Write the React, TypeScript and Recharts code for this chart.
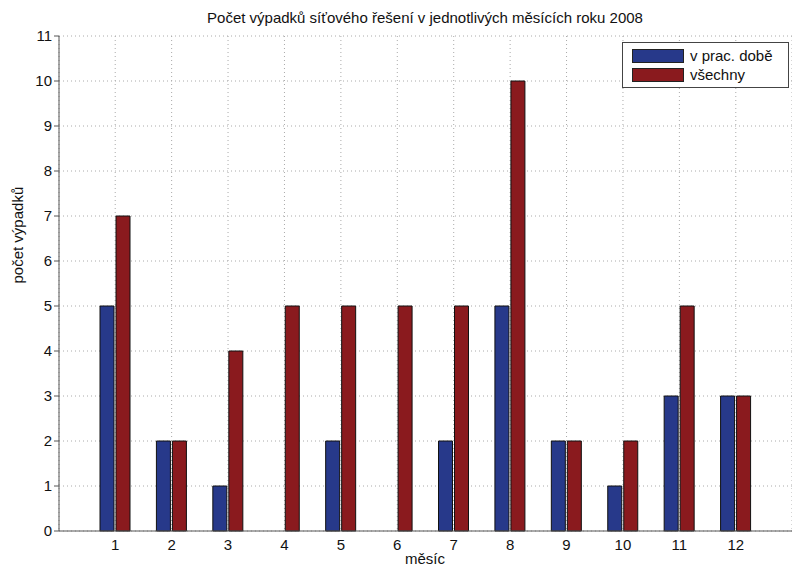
// Sloupcový graf výpadků síťového řešení po měsících (2008).

import { Bar, BarChart, CartesianGrid, XAxis, YAxis } from "recharts";

const months = ["1", "2", "3", "4", "5", "6", "7", "8", "9", "10", "11", "12"];
const workHours = [5, 2, 1, 0, 2, 0, 2, 5, 2, 1, 3, 3];
const allOutages = [7, 2, 4, 5, 5, 5, 5, 10, 2, 2, 5, 3];
const yTicks = [0, 1, 2, 3, 4, 5, 6, 7, 8, 9, 10, 11];

const data = months.map((m, i) => ({ month: m, prac: workHours[i], vse: allOutages[i] }));

const BLUE = "#27398a";
const RED = "#8a1a1e";
const font = "'Liberation Sans', Arial, sans-serif";
const tick = { fill: "#111", fontSize: 15, fontFamily: font };

function LegendBox() {
  const row = (color: string, label: string) => (
    <div style={{ display: "flex", alignItems: "center", height: 19 }}>
      <div style={{ width: 50, height: 12, background: color, border: "1px solid #222", marginRight: 6 }} />
      <span>{label}</span>
    </div>
  );
  return (
    <div
      style={{
        position: "absolute",
        left: 622,
        top: 42,
        border: "1px solid #444",
        background: "#fff",
        padding: "3px 8px 3px 9px",
        fontFamily: font,
        fontSize: 15,
        color: "#111",
        width: 148,
      }}
    >
      {row(BLUE, "v prac. době")}
      {row(RED, "všechny")}
    </div>
  );
}

export default function App() {
  return (
    <div style={{ position: "absolute", left: 0, top: 0, width: 792, height: 567, background: "#fff" }}>
      <BarChart
        width={792}
        height={567}
        data={data}
        margin={{ top: 36, right: 0, bottom: 0, left: 0 }}
        barSize={14}
        barGap={2}
      >
        <text x={425} y={23} textAnchor="middle" fontFamily={font} fontSize={15} fill="#111">
          Počet výpadků síťového řešení v jednotlivých měsících roku 2008
        </text>
        <text x={425} y={564} textAnchor="middle" fontFamily={font} fontSize={15} fill="#111">
          měsíc
        </text>
        <CartesianGrid stroke="#aaa" strokeDasharray="1 3" />
        <XAxis
          dataKey="month"
          padding={{ left: 28, right: 28 }}
          height={36}
          tick={tick}
          tickLine={false}
          stroke="#555"
        />
        <YAxis
          domain={[0, 11]}
          ticks={yTicks}
          interval={0}
          width={59}
          tick={tick}
          tickSize={5}
          stroke="#555"
          label={{
            value: "počet výpadků",
            angle: -90,
            position: "insideLeft",
            offset: 18,
            fill: "#111",
            fontSize: 15,
            fontFamily: font,
          }}
        />
        <Bar dataKey="prac" name="v prac. době" fill={BLUE} stroke="#111" strokeWidth={1} isAnimationActive={false} />
        <Bar dataKey="vse" name="všechny" fill={RED} stroke="#111" strokeWidth={1} isAnimationActive={false} />
      </BarChart>
      <LegendBox />
    </div>
  );
}
